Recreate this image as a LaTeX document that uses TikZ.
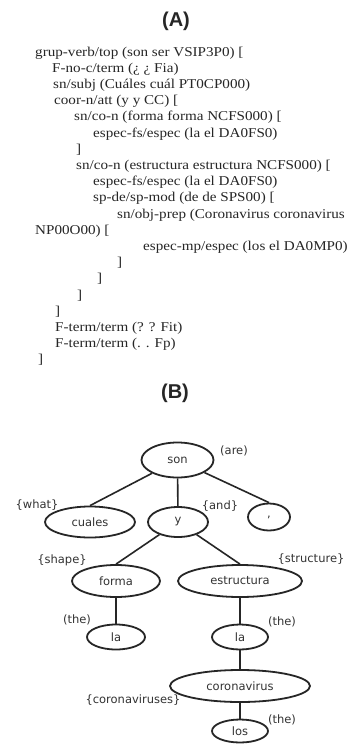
\documentclass[tikz,border=0pt]{standalone}
\usepackage{fontspec}
\usepackage{graphicx}
\setmainfont{Liberation Serif}
\newfontfamily\treefont{DejaVu Sans}
\newfontfamily\titlefont{Liberation Sans}
\usetikzlibrary{shapes.geometric}
\newcommand{\cl}[1]{\scalebox{1.12}[1]{#1}}
\begin{document}
\begin{tikzpicture}[x=1pt,y=-1pt,
  codeline/.style={anchor=base west, inner sep=0pt, font=\fontsize{13.5}{14}\selectfont, text=black!85},
  paneltitle/.style={inner sep=0pt, font=\titlefont\bfseries\fontsize{20}{22}\selectfont, text=black!85},
  tnode/.style={ellipse, draw=black!85, line width=1.8pt, inner sep=0pt, font=\treefont\fontsize{11.5}{12}\selectfont, text=black!80},
  tlabel/.style={inner sep=0pt, font=\treefont\fontsize{11.5}{12}\selectfont, text=black!80},
  tedge/.style={draw=black!85, line width=1.6pt}]
\path[fill=white, use as bounding box] (0,0) rectangle (351,744);
% ---------- (A) ----------
\node[paneltitle] (ta) at (176,21) {(A)};
\node[codeline] (l0)  at (35,56)    {\cl{grup-verb/top (son ser VSIP3P0) [}};
\node[codeline] (l1)  at (52,72.2)  {\cl{F-no-c/term (¿ ¿ Fia)}};
\node[codeline] (l2)  at (53,88.4)  {\cl{sn/subj (Cuáles cuál PT0CP000)}};
\node[codeline] (l3)  at (54,104.6) {\cl{coor-n/att (y y CC) [}};
\node[codeline] (l4)  at (74,120.8) {\cl{sn/co-n (forma forma NCFS000) [}};
\node[codeline] (l5)  at (93,137)   {\cl{espec-fs/espec (la el DA0FS0)}};
\node[codeline] (l6)  at (76,153.2) {\cl{]}};
\node[codeline] (l7)  at (76,169.4) {\cl{sn/co-n (estructura estructura NCFS000) [}};
\node[codeline] (l8)  at (93,185.6) {\cl{espec-fs/espec (la el DA0FS0)}};
\node[codeline] (l9)  at (93,201.8) {\cl{sp-de/sp-mod (de de SPS00) [}};
\node[codeline] (l10) at (117,218)  {\cl{sn/obj-prep (Coronavirus coronavirus}};
\node[codeline] (l11) at (35,234.2) {\cl{NP00O00) [}};
\node[codeline] (l12) at (143,250.4){\cl{espec-mp/espec (los el DA0MP0)}};
\node[codeline] (l13) at (117,266.6){\cl{]}};
\node[codeline] (l14) at (97,282.8) {\cl{]}};
\node[codeline] (l15) at (77,299)   {\cl{]}};
\node[codeline] (l16) at (55,315.2) {\cl{]}};
\node[codeline] (l17) at (55,331.4) {\cl{F-term/term (? ? Fit)}};
\node[codeline] (l18) at (55,347.6) {\cl{F-term/term (. . Fp)}};
\node[codeline] (l19) at (38,363.8) {\cl{]}};
% ---------- (B) ----------
\node[paneltitle] (tb) at (175,393) {(B)};
\node[tnode, minimum width=72pt, minimum height=35pt] (son) at (177.5,460) {son};
\node[tnode, minimum width=90pt, minimum height=31pt] (cuales) at (90,522) {cuales};
\node[tnode, minimum width=60pt, minimum height=30pt] (y) at (178,522) {y};
\node[tnode, minimum width=42pt, minimum height=27pt] (comma) at (269,517) {,};
\node[tnode, minimum width=88pt, minimum height=32pt] (forma) at (116,581) {forma};
\node[tnode, minimum width=124pt, minimum height=32pt] (estr) at (240,581) {estructura};
\node[tnode, minimum width=58pt, minimum height=25pt] (la1) at (116,637) {la};
\node[tnode, minimum width=56pt, minimum height=25pt] (la2) at (240,637) {la};
\node[tnode, minimum width=140pt, minimum height=32pt] (corona) at (240,686) {coronavirus};
\node[tnode, minimum width=56pt, minimum height=23pt] (los) at (240,731) {los};
% labels
\node[tlabel] (gare) at (234,451) {(are)};
\node[tlabel] (gwhat) at (37,505) {\{what\}};
\node[tlabel] (gand) at (220,506) {\{and\}};
\node[tlabel] (gshape) at (62,560) {\{shape\}};
\node[tlabel] (gstruct) at (311,559) {\{structure\}};
\node[tlabel] (gthe1) at (77,620) {(the)};
\node[tlabel] (gthe2) at (282,622) {(the)};
\node[tlabel] (gcorona) at (133,700) {\{coronaviruses\}};
\node[tlabel] (gthe3) at (282,720) {(the)};
% edges
\path[tedge] (son) -- (cuales.north);
\path[tedge] (son) -- (y);
\path[tedge] (son) -- (comma.north);
\path[tedge] (y) -- (forma.north);
\path[tedge] (y) -- (estr.north);
\path[tedge] (forma) -- (la1);
\path[tedge] (estr) -- (la2);
\path[tedge] (la2) -- (corona);
\path[tedge] (corona) -- (los);
\end{tikzpicture}
\end{document}
